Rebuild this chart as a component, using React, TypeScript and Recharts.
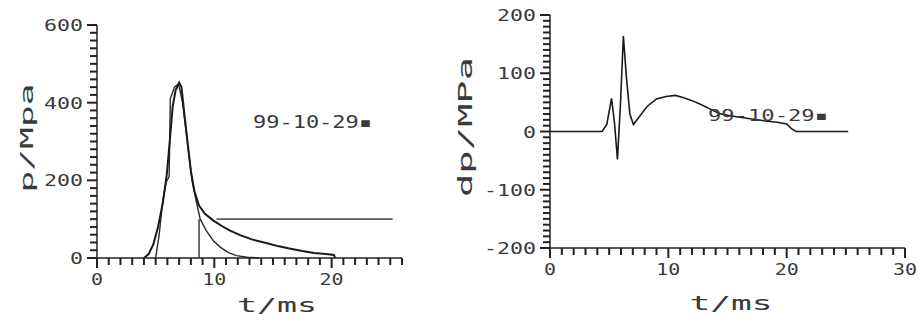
import React from 'react';
import { LineChart, Line, XAxis, YAxis } from 'recharts';

// ---------- data (t in ms, values in MPa) ----------
const pMeasured: [number, number][] = [
  [4.0, 0], [4.4, 10], [4.8, 35], [5.2, 80], [5.6, 140], [5.95, 215], [6.2, 300],
  [6.45, 390], [6.7, 432], [7.0, 452], [7.2, 440], [7.45, 370], [7.75, 290],
  [8.0, 225], [8.3, 172], [8.7, 135], [9.2, 114], [9.9, 97], [10.6, 83],
  [11.3, 71], [12.2, 59], [13.2, 48], [14.5, 38], [15.5, 30], [16.5, 24],
  [17.5, 18], [18.5, 13], [19.5, 10], [20.2, 8], [20.3, 0],
];
const pFit: [number, number][] = [
  [5.0, 0], [5.3, 60], [5.6, 145], [5.9, 195], [6.15, 210], [6.25, 410],
  [6.6, 440], [6.95, 448], [7.3, 400], [7.7, 300], [8.1, 200], [8.5, 140],
  [8.8, 100], [9.3, 71], [9.9, 45], [10.5, 28], [11.2, 14], [11.9, 6],
  [12.8, 2], [13.8, 0],
];
const pMarker: [number, number][] = [[8.7, 0], [8.7, 100]];
const pLevel: [number, number][] = [[10.2, 100], [25.2, 100]];

const dpSeries: [number, number][] = [
  [0, 0], [4.4, 0], [4.8, 12], [5.2, 57], [5.45, 15], [5.7, -48], [5.95, 45],
  [6.2, 164], [6.45, 95], [6.75, 30], [7.05, 12], [7.5, 24], [8.2, 43],
  [9.0, 56], [9.8, 60], [10.6, 62], [11.3, 58], [12.0, 53], [12.8, 46],
  [13.6, 38], [14.3, 31], [15.2, 27], [16.2, 24], [17.2, 21], [18.2, 18],
  [19.2, 16], [20.0, 13], [20.4, 5], [20.8, 0], [25.2, 0],
];

const leftXTicks = [0, 1, 2, 3, 4, 5, 6, 7, 8, 9, 10, 11, 12, 13, 14, 15, 16, 17, 18, 19, 20, 21, 22, 23, 24, 25, 26];
const leftXLabels = [0, 10, 20];
const leftYTicks = [0, 20, 40, 60, 80, 100, 120, 140, 160, 180, 200, 220, 240, 260, 280, 300, 320, 340, 360, 380, 400, 420, 440, 460, 480, 500, 520, 540, 560, 580, 600];
const leftYLabels = [0, 200, 400, 600];

const rightXTicks = [0, 1, 2, 3, 4, 5, 6, 7, 8, 9, 10, 11, 12, 13, 14, 15, 16, 17, 18, 19, 20, 21, 22, 23, 24, 25, 26, 27, 28, 29, 30];
const rightXLabels = [0, 10, 20, 30];
const rightYTicks = [-200, -190, -180, -170, -160, -150, -140, -130, -120, -110, -100, -90, -80, -70, -60, -50, -40, -30, -20, -10, 0, 10, 20, 30, 40, 50, 60, 70, 80, 90, 100, 110, 120, 130, 140, 150, 160, 170, 180, 190, 200];
const rightYLabels = [-200, -100, 0, 100, 200];

const noteText = '99-10-29▪';
const leftXTitle = 't/ms';
const leftYTitle = 'p/Mpa';
const rightXTitle = 't/ms';
const rightYTitle = 'dp/MPa';

// ---------- layout / styles ----------
const FONT = "'DejaVu Sans Mono', monospace";
const TXT = '#3a3a3a';
const AX = '#222222';

const L = { w: 450, h: 326, ox: 0, margin: { top: 25, right: 48, bottom: 28, left: 37 }, yw: 60, xh: 40, xd: [0, 26], yd: [0, 600] };
const R = { w: 469, h: 326, ox: 450, margin: { top: 15, right: 14, bottom: 38, left: 40 }, yw: 60, xh: 40, xd: [0, 30], yd: [-200, 200] };

const plotBox = (c: typeof L) => ({
  left: c.ox + c.margin.left + c.yw,
  right: c.ox + c.w - c.margin.right,
  top: c.margin.top,
  bottom: c.h - c.margin.bottom - c.xh,
});

// axis tick marks: thin rectangles placed with the same linear mapping as the axes
const tickMarks = (c: typeof L, xt: number[], xl: number[], yt: number[], yl: number[]) => {
  const b = plotBox(c);
  const sx = (t: number) => b.left + ((t - c.xd[0]) / (c.xd[1] - c.xd[0])) * (b.right - b.left);
  const sy = (v: number) => b.bottom - ((v - c.yd[0]) / (c.yd[1] - c.yd[0])) * (b.bottom - b.top);
  return (
    <g>
      {xt.map((t) => {
        const len = xl.includes(t) ? 10 : 7;
        return <rect key={'x' + t} x={sx(t) - 1} y={b.bottom} width={2} height={len} fill={AX} />;
      })}
      {yt.map((v) => {
        const len = yl.includes(v) ? 10 : 7;
        return <rect key={'y' + v} x={b.left - len} y={sy(v) - 1} width={len} height={2} fill={AX} />;
      })}
    </g>
  );
};

const toPts = (arr: [number, number][]) => arr.map(([t, v]) => ({ t, v }));

function makeYLabel(labels: number[]) {
  return (props: any) => {
    const x = Number(props.x);
    const y = Number(props.y);
    const v = props.payload.value;
    if (!labels.includes(v)) return <g />;
    const s = String(v);
    return (
      <text x={x - 14} y={y + 6} textAnchor="end" fontFamily={FONT} fontSize={16}
        fill={TXT} textLength={13 * s.length} lengthAdjust="spacingAndGlyphs">{s}</text>
    );
  };
}
function makeXLabel(labels: number[]) {
  return (props: any) => {
    const x = Number(props.x);
    const y = Number(props.y);
    const v = props.payload.value;
    if (!labels.includes(v)) return <g />;
    const s = String(v);
    return (
      <text x={x} y={y + 27} textAnchor="middle" fontFamily={FONT} fontSize={16}
        fill={TXT} textLength={12 * s.length} lengthAdjust="spacingAndGlyphs">{s}</text>
    );
  };
}

const Txt = ({ x, y, s, size, len, anchor = 'start', rotate = false }: any) => (
  <text x={x} y={y} fontFamily={FONT} fontSize={size} fill={TXT} textAnchor={anchor}
    textLength={len} lengthAdjust="spacingAndGlyphs"
    transform={rotate ? `rotate(-90 ${x} ${y})` : undefined}>{s}</text>
);

export default function App() {
  return (
    <div style={{ position: 'absolute', left: 0, top: 0, width: 919, height: 326, background: '#fff' }}>
      <div style={{ position: 'absolute', left: L.ox, top: 0 }}>
        <LineChart width={L.w} height={L.h} margin={L.margin}>
          <XAxis type="number" dataKey="t" domain={L.xd} ticks={leftXTicks} interval={0}
            tickSize={0} tickMargin={0} tickLine={false} height={L.xh}
            axisLine={{ stroke: AX, strokeWidth: 1.5 }} tick={makeXLabel(leftXLabels)} />
          <YAxis type="number" domain={L.yd} ticks={leftYTicks} interval={0}
            tickSize={0} tickMargin={0} tickLine={false} width={L.yw}
            axisLine={{ stroke: AX, strokeWidth: 1.5 }} tick={makeYLabel(leftYLabels)} />
          <Line data={toPts(pLevel)} dataKey="v" type="linear" dot={false} stroke="#5a5a5a" strokeWidth={1.8} isAnimationActive={false} />
          <Line data={toPts(pMarker)} dataKey="v" type="linear" dot={false} stroke="#222" strokeWidth={1.3} isAnimationActive={false} />
          <Line data={toPts(pFit)} dataKey="v" type="linear" dot={false} stroke="#2a2a2a" strokeWidth={1.4} isAnimationActive={false} />
          <Line data={toPts(pMeasured)} dataKey="v" type="linear" dot={false} stroke="#1a1a1a" strokeWidth={2} isAnimationActive={false} />
        </LineChart>
      </div>
      <div style={{ position: 'absolute', left: R.ox, top: 0 }}>
        <LineChart width={R.w} height={R.h} margin={R.margin}>
          <XAxis type="number" dataKey="t" domain={R.xd} ticks={rightXTicks} interval={0}
            tickSize={0} tickMargin={0} tickLine={false} height={R.xh}
            axisLine={{ stroke: AX, strokeWidth: 1.5 }} tick={makeXLabel(rightXLabels)} />
          <YAxis type="number" domain={R.yd} ticks={rightYTicks} interval={0}
            tickSize={0} tickMargin={0} tickLine={false} width={R.yw}
            axisLine={{ stroke: AX, strokeWidth: 1.5 }} tick={makeYLabel(rightYLabels)} />
          <Line data={toPts(dpSeries)} dataKey="v" type="linear" dot={false} stroke="#1a1a1a" strokeWidth={1.6} isAnimationActive={false} />
        </LineChart>
      </div>
      <svg width={919} height={326} style={{ position: 'absolute', left: 0, top: 0, pointerEvents: 'none' }}>
        {tickMarks(L, leftXTicks, leftXLabels, leftYTicks, leftYLabels)}
        {tickMarks(R, rightXTicks, rightXLabels, rightYTicks, rightYLabels)}
        <Txt x={277} y={312} s={leftXTitle} size={20} len={80} anchor="middle" />
        <Txt x={253} y={128} s={noteText} size={17} len={119} />
        <Txt x={33} y={138} s={leftYTitle} size={18} len={109} anchor="middle" rotate />
        <Txt x={731} y={310} s={rightXTitle} size={20} len={83} anchor="middle" />
        <Txt x={708} y={121} s={noteText} size={16} len={120} />
        <Txt x={472} y={127} s={rightYTitle} size={20} len={140} anchor="middle" rotate />
      </svg>
    </div>
  );
}
